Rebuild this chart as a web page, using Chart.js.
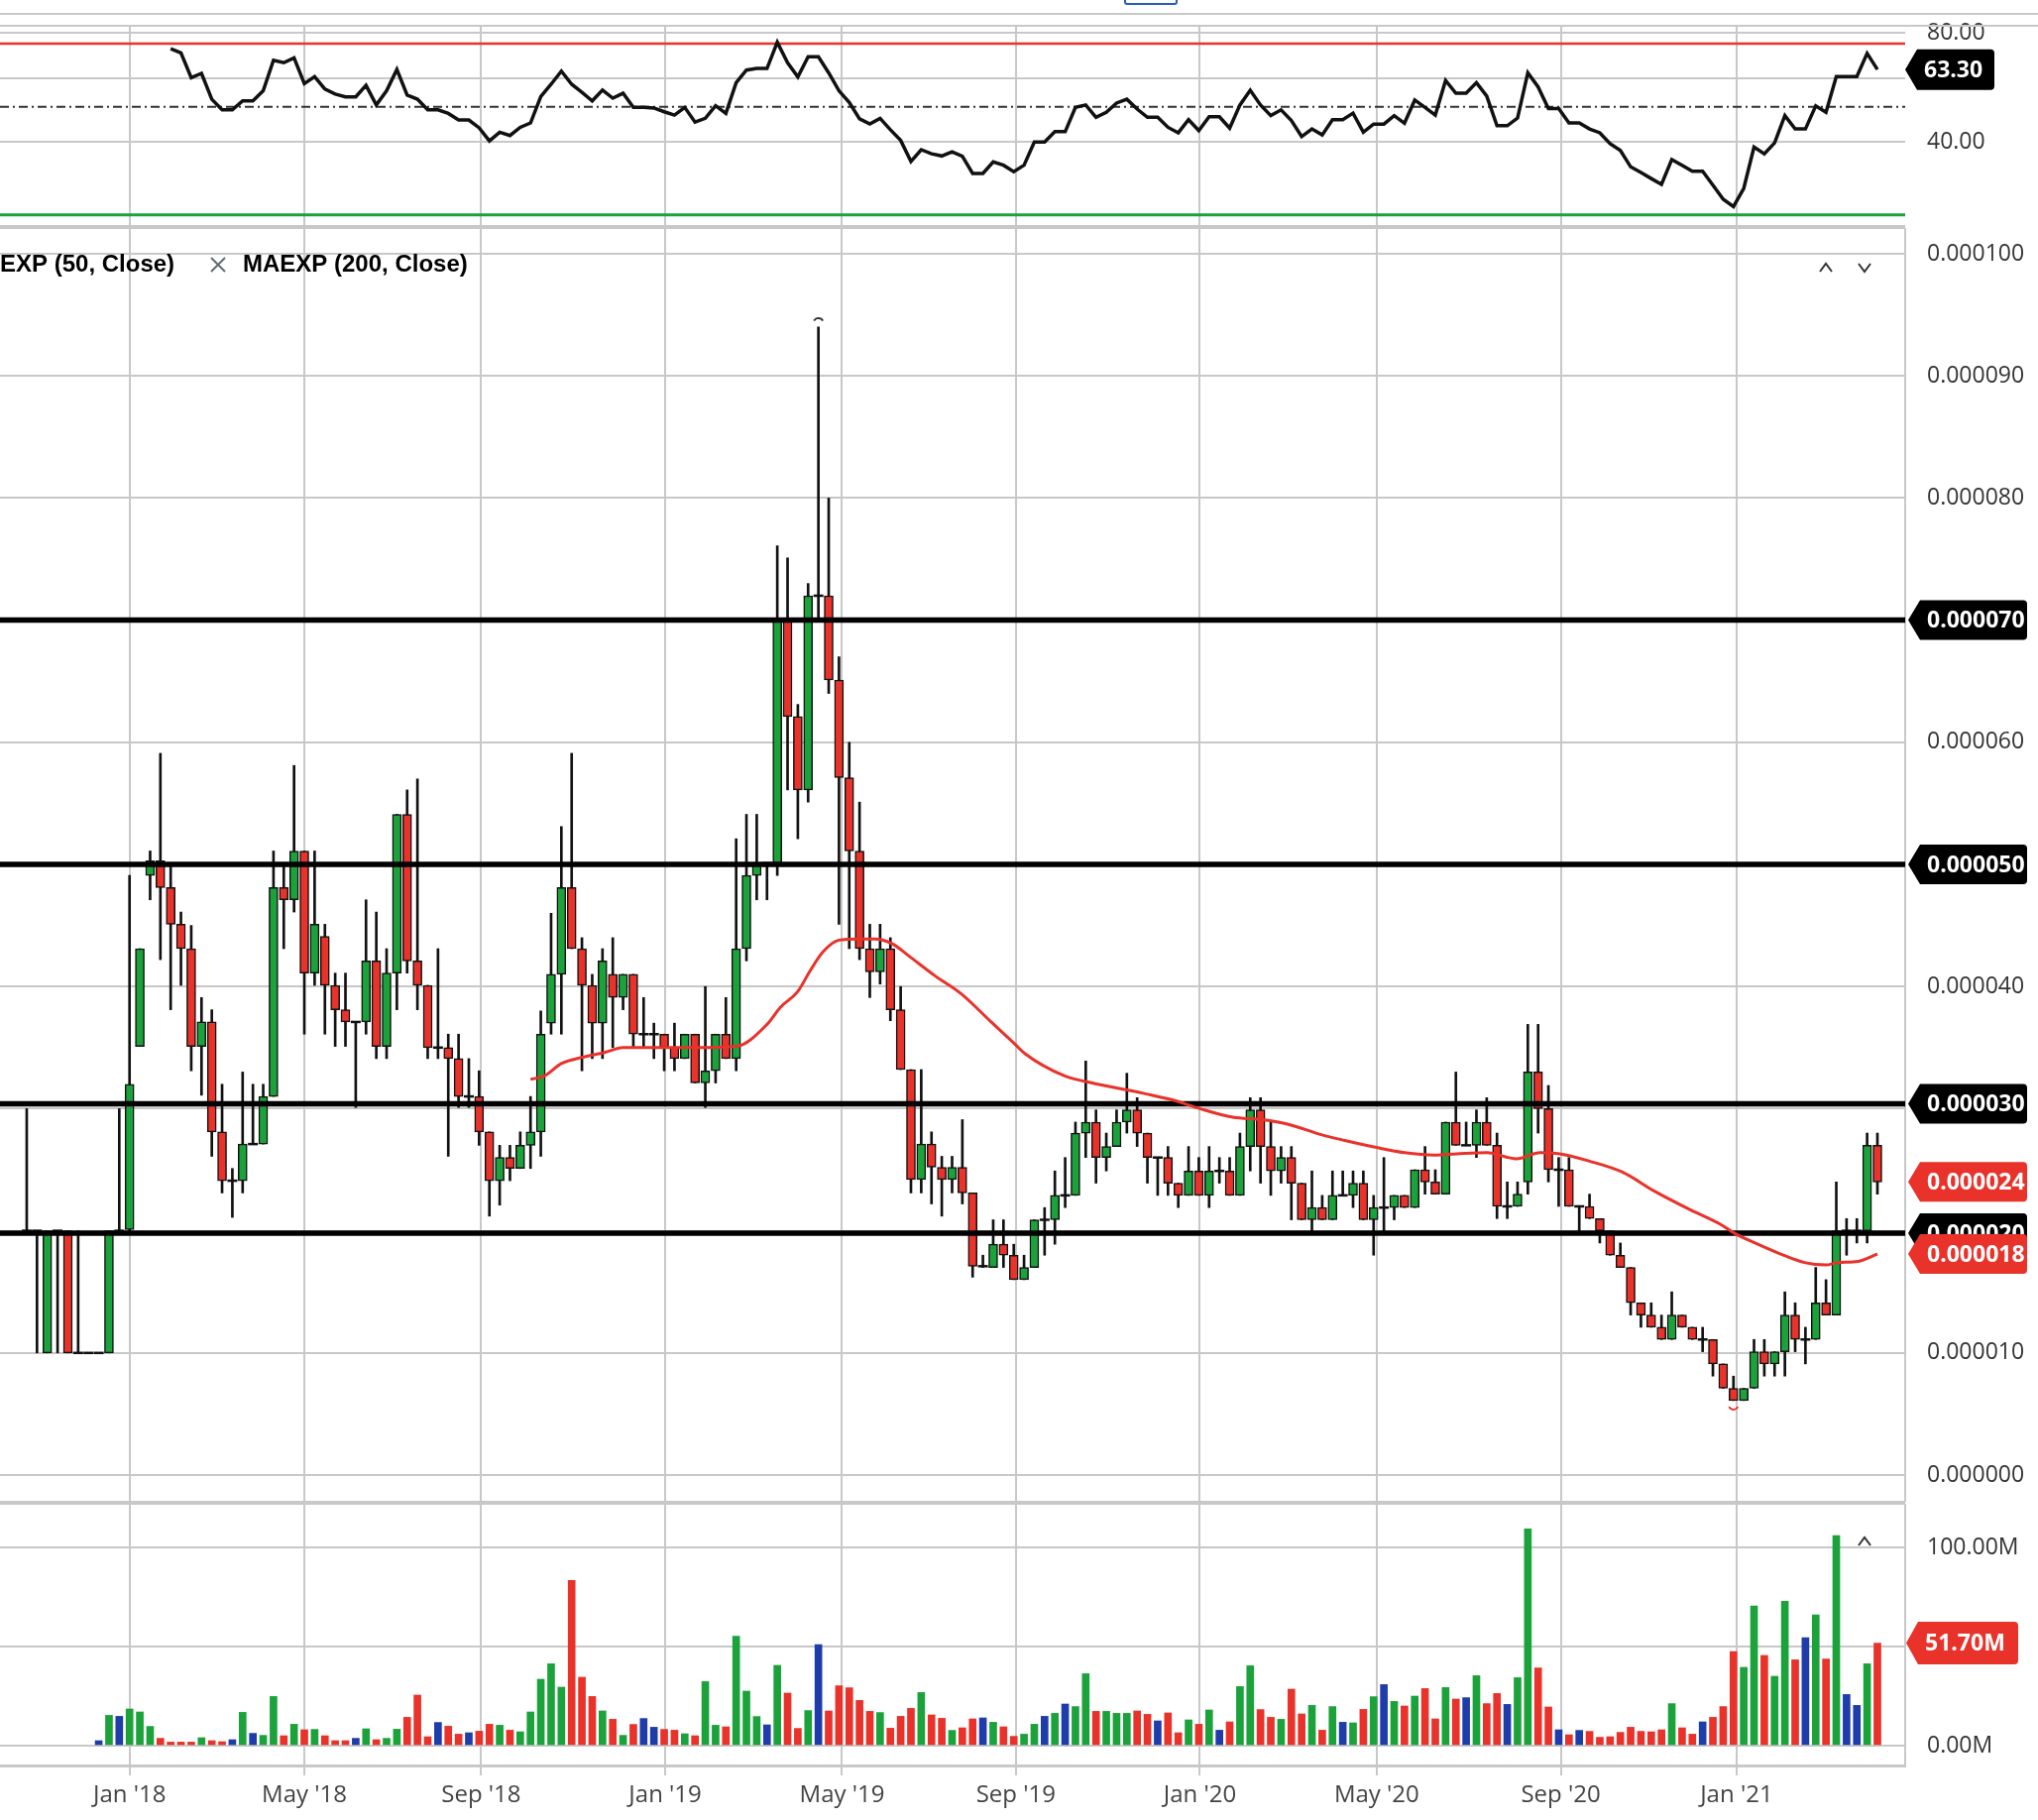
<!DOCTYPE html>
<html>
<head>
<meta charset="utf-8">
<script src="https://cdn.jsdelivr.net/npm/chart.js@4.4.1/dist/chart.umd.min.js"></script>
<style>
  html, body { margin: 0; padding: 0; background: #fff; }
  #wrap { position: relative; width: 2056px; height: 1836px; overflow: hidden; }
  canvas { position: absolute; left: 0; }
  .rule { position: absolute; left: 0; background: #c8c8c8; }
</style>
</head>
<body>
<div id="wrap">
  <canvas id="rsi-chart" width="2056" height="309" style="top:-30px"></canvas>
  <canvas id="price-chart" width="2056" height="1383" style="top:181px"></canvas>
  <canvas id="volume-chart" width="2056" height="368" style="top:1468px"></canvas>
  <div class="rule" style="top:13px;width:2056px;height:2px"></div>
  <div class="rule" style="top:25px;width:2056px;height:2px"></div>
  <div class="rule" style="top:227px;width:1922px;height:4px"></div>
  <div class="rule" style="top:1514px;width:1922px;height:4px"></div>
  <div style="position:absolute;left:1134px;top:-8px;width:50px;height:9px;border:2px solid #2a5bc0;border-radius:3px"></div>
</div>
<script>
// weekly candles, week index 0 = first week of Jan 2018; prices in units of 1e-6
const FIRST_WEEK = -10;
const openP = [
  20, 20, 10, 20, 20, 10, 10, 10, 10, 20,
  20.1, 35.1, 49.1, 50.3, 48.1, 45.1, 43.1, 35.1, 37.1, 28.1,
  24.1, 24.1, 27.1, 27.1, 31.0, 48.1, 47.1, 51.1, 41.1, 44.1,
  40.1, 38.1, 37.1, 37.1, 42.1, 35.1, 41.1, 54.1, 42.1, 40.1,
  35.0, 35.0, 34.1, 31.0, 31.0, 28.1, 24.1, 26.0, 25.1, 27.0,
  28.1, 37.0, 41.0, 48.1, 43.1, 40.1, 37.0, 41.0, 39.1, 41.0,
  36.1, 36.1, 36.1, 35.0, 34.1, 36.1, 32.1, 33.1, 36.1, 34.1,
  43.1, 49.1, 50.1, 50.1, 70.1, 62.1, 56.1, 72.0, 72.0, 65.1,
  57.1, 51.1, 43.1, 41.2, 43.1, 38.1, 33.2, 24.2, 27.1, 25.2,
  24.2, 25.2, 23.1, 17.1, 17.0, 18.9, 18.0, 16.0, 17.0, 20.9,
  20.9, 22.9, 22.9, 28.0, 28.9, 26.0, 26.9, 28.9, 29.9, 28.0,
  26.0, 26.0, 23.9, 22.9, 24.9, 22.9, 24.9, 24.9, 22.9, 26.9,
  29.9, 26.9, 24.9, 26.0, 23.9, 20.9, 21.9, 20.9, 22.9, 22.9,
  23.9, 20.9, 21.9, 21.9, 22.9, 21.9, 25.0, 24.0, 23.0, 28.9,
  27.0, 27.0, 28.9, 27.0, 22.0, 22.0, 24.0, 33.0, 30.0, 25.0,
  25.0, 22.0, 22.0, 21.0, 20.0, 18.0, 17.0, 14.1, 13.1, 12.1,
  11.1, 13.1, 12.1, 11.1, 11.1, 9.1, 7.1, 6.1, 7.1, 10.1,
  9.1, 10.1, 13.1, 11.1, 11.1, 14.1, 13.1, 20.0, 20.0, 20.0, 27.0
];
const highP = [
  30, 20, 20, 20, 20, 20, 10, 10, 20, 30,
  49.1, 43.1, 51.1, 59.1, 49.8, 46.1, 45.0, 39.1, 38.1, 32.0,
  25.1, 33.0, 32.0, 32.0, 51.1, 49.8, 58.1, 51.1, 51.1, 45.1,
  41.1, 41.1, 37.1, 47.1, 46.1, 43.1, 54.1, 56.1, 57.0, 40.1,
  43.1, 36.1, 36.1, 34.1, 33.1, 28.1, 27.0, 27.0, 28.1, 31.0,
  38.0, 46.0, 53.1, 59.1, 44.0, 41.0, 43.1, 44.0, 41.0, 41.0,
  39.1, 37.0, 36.1, 37.0, 36.1, 36.1, 40.0, 36.1, 39.1, 52.1,
  54.1, 54.1, 50.1, 76.1, 75.1, 63.1, 73.0, 94.0, 80.0, 67.0,
  60.0, 55.1, 45.1, 45.1, 44.0, 40.0, 33.2, 33.2, 28.1, 26.1,
  26.1, 29.1, 23.1, 18.0, 20.9, 20.9, 18.9, 18.0, 20.9, 21.9,
  24.9, 26.0, 28.9, 33.9, 29.9, 28.0, 29.9, 32.9, 30.9, 28.0,
  26.0, 26.9, 23.9, 26.9, 26.0, 26.9, 26.0, 26.0, 28.0, 30.9,
  30.9, 28.9, 26.9, 26.9, 23.9, 24.9, 22.9, 24.9, 24.9, 24.9,
  24.9, 22.9, 26.0, 22.9, 22.9, 25.0, 26.9, 25.0, 28.9, 33.0,
  28.9, 29.9, 30.9, 28.0, 24.0, 24.0, 36.9, 36.9, 31.9, 26.0,
  26.0, 22.0, 23.0, 21.0, 20.0, 19.0, 17.0, 14.1, 14.1, 13.1,
  15.0, 13.1, 12.1, 12.1, 11.1, 9.1, 8.1, 7.1, 11.1, 11.1,
  10.1, 15.0, 14.1, 12.1, 17.0, 16.0, 24.0, 21.0, 21.0, 28.0, 28.0
];
const lowP = [
  20, 10, 10, 10, 10, 10, 10, 10, 10, 20,
  20.0, 35.1, 47.1, 42.2, 38.1, 40.1, 33.1, 31.1, 26.1, 23.1,
  21.1, 23.1, 27.1, 27.1, 31.0, 43.1, 46.1, 36.1, 40.1, 36.1,
  35.1, 35.1, 30.1, 36.1, 34.1, 34.1, 38.1, 41.1, 38.1, 34.1,
  34.1, 26.1, 30.1, 30.1, 27.0, 21.2, 22.1, 24.1, 25.1, 25.1,
  26.1, 36.1, 36.1, 43.1, 33.1, 34.1, 34.1, 35.0, 38.1, 35.0,
  35.0, 34.1, 33.1, 33.1, 34.1, 32.1, 30.1, 32.1, 34.1, 33.1,
  42.1, 47.1, 47.1, 49.1, 56.1, 52.1, 55.1, 70.1, 64.0, 45.1,
  43.1, 42.2, 39.1, 40.2, 37.2, 33.2, 23.1, 23.1, 22.2, 21.2,
  23.1, 22.2, 16.2, 17.0, 17.0, 17.0, 16.0, 16.0, 17.0, 18.0,
  18.9, 21.9, 22.9, 26.0, 23.9, 24.9, 26.9, 28.0, 26.9, 23.9,
  22.9, 22.9, 21.9, 22.9, 22.9, 21.9, 23.9, 22.9, 22.9, 24.9,
  23.9, 22.9, 23.9, 20.9, 20.9, 19.7, 20.9, 20.9, 22.9, 21.9,
  20.9, 18.0, 19.7, 20.9, 21.9, 21.9, 23.0, 23.0, 23.0, 27.0,
  27.0, 26.0, 27.0, 21.0, 21.0, 22.0, 23.0, 28.0, 24.0, 22.0,
  22.0, 20.0, 21.0, 19.0, 18.0, 17.0, 13.1, 12.1, 12.1, 11.1,
  11.1, 12.1, 11.1, 10.1, 8.1, 7.1, 6.1, 6.1, 7.1, 8.1,
  8.1, 8.1, 10.1, 9.1, 11.1, 13.1, 13.1, 18.0, 19.0, 19.0, 23.0
];
const closeP = [
  20, 20, 20, 20, 10, 10, 10, 10, 20, 20,
  32.0, 43.1, 50.3, 48.1, 45.1, 43.1, 35.1, 37.1, 28.1, 24.1,
  24.1, 27.1, 27.1, 31.0, 48.1, 47.1, 51.1, 41.1, 45.1, 40.1,
  38.1, 37.1, 37.1, 42.1, 35.1, 41.1, 54.1, 42.1, 40.1, 35.0,
  35.0, 34.1, 31.0, 31.0, 28.1, 24.1, 26.0, 25.1, 27.0, 28.1,
  36.1, 41.0, 48.1, 43.1, 40.1, 37.0, 42.1, 39.1, 41.0, 36.1,
  36.1, 36.1, 35.0, 34.1, 36.1, 32.1, 33.1, 36.1, 34.1, 43.1,
  49.1, 50.1, 50.1, 70.1, 62.1, 56.1, 72.0, 72.0, 65.1, 57.1,
  51.1, 43.1, 41.2, 43.1, 38.1, 33.2, 24.2, 27.1, 25.2, 24.2,
  25.2, 23.1, 17.1, 17.1, 18.9, 18.0, 16.0, 17.0, 20.9, 20.9,
  22.9, 22.9, 28.0, 28.9, 26.0, 26.9, 28.9, 29.9, 28.0, 26.0,
  26.0, 23.9, 22.9, 24.9, 22.9, 24.9, 24.9, 22.9, 26.9, 29.9,
  26.9, 24.9, 26.0, 23.9, 20.9, 21.9, 20.9, 22.9, 22.9, 23.9,
  20.9, 21.9, 21.9, 22.9, 21.9, 25.0, 24.0, 23.0, 28.9, 27.0,
  27.0, 28.9, 27.0, 22.0, 22.0, 23.0, 33.0, 30.0, 25.0, 25.0,
  22.0, 22.0, 21.0, 20.0, 18.0, 17.0, 14.1, 13.1, 12.1, 11.1,
  13.1, 12.1, 11.1, 11.1, 9.1, 7.1, 6.1, 7.1, 10.1, 9.1,
  10.1, 13.1, 11.1, 11.1, 14.1, 13.1, 20.0, 20.0, 20.0, 27.0, 24.0
];

// volume in millions, from week -3
const VOL_FIRST_WEEK = -3;
const volumeM = [
  2.5, 15.3, 14.8, 18.5, 17, 9.7, 3.7, 1.8, 1.8, 1.8,
  4, 2.5, 2, 3, 16.8, 6.2, 5.2, 24.8, 5, 10.8,
  8, 8.2, 5, 2.5, 2.5, 3.7, 8.5, 3, 3.7, 8.3,
  14.3, 25.5, 4.5, 11.7, 9.8, 5.8, 6.5, 7.3, 10.8, 10.3,
  7.8, 7, 17, 33.5, 41.3, 29.5, 83.3, 34.5, 24.8, 17.5,
  13.3, 5.2, 10.7, 13.7, 9.3, 8.2, 7.8, 6, 5, 32.3,
  10.3, 9.5, 55.2, 27.5, 14.7, 10.5, 40.5, 26.5, 8.7, 17.7,
  51, 17.5, 30.2, 29.2, 22.8, 17.3, 16.7, 8.8, 14.8, 18.8,
  26.8, 15.5, 13.8, 7.7, 9, 13.5, 14, 11.8,
  9.5, 4.7, 5.8, 10.8, 14.8, 16.3, 21, 19.7, 36.3, 17.3,
  17.3, 16.3, 16.3, 17.5, 15.8, 12.5, 16.5, 6.5, 13, 10.8,
  18, 7.8, 12, 29.8, 40.3, 18.2, 14.3, 13.3, 28.5, 16,
  20.3, 7.8, 19.7, 11.8, 11.5, 18.3, 24.7, 30.8, 22.3, 20,
  25, 28.8, 13.5, 29.3, 23.5, 24.2, 35.3, 21.2, 26.3, 20.8,
  34.3, 109.3, 39.2, 19.5, 8, 5.5, 7.7, 7.2, 4.2, 4.5,
  6.7, 9.3, 7.2, 7, 8, 21.2, 9, 5.8, 12, 14.3,
  19.7, 47.5, 39.5, 70.5, 45.5, 35, 72.8, 43.3, 54.5, 66,
  43.7, 106, 25.8, 20.3, 41.3, 51.7
];

// oscillator (top panel), from week 4
const RSI_FIRST_WEEK = 4;
const rsiValues = [
  74.1, 72.6, 63.5, 65.1, 55.6, 51.7, 51.7, 55.0, 55.0, 58.7,
  69.9, 69.0, 70.8, 61.3, 63.9, 59.3, 57.5, 56.5, 56.5, 60.7,
  53.5, 58.7, 66.5, 57.1, 55.6, 51.7, 51.7, 50.4, 48.0, 48.0,
  45.1, 40.3, 43.5, 42.3, 45.3, 46.9, 56.6, 61.1, 65.9, 61.1,
  58.1, 55.0, 59.0, 56.0, 57.8, 52.6, 52.6, 52.4, 51.0, 49.8,
  52.6, 47.2, 48.6, 53.2, 50.4, 61.7, 66.3, 66.9, 66.9, 76.5,
  69.0, 63.8, 71.2, 71.2, 65.3, 58.7, 54.4, 48.4, 46.5, 48.6,
  44.4, 40.5, 32.8, 37.1, 35.6, 34.8, 36.3, 34.7, 28.4, 28.4,
  32.6, 31.4, 29.0, 31.4, 39.9,
  39.9, 43.7, 43.7, 52.6, 53.5, 49.0, 50.8, 54.2, 55.6, 52.0,
  49.0, 49.0, 45.3, 43.3, 48.1, 44.1, 49.2, 49.2, 45.0, 53.5,
  58.9, 53.5, 49.6, 51.7, 47.8, 41.9, 44.7, 42.5, 48.1, 48.1,
  50.5, 43.5, 46.5, 46.5, 49.6, 46.8, 55.3, 52.6, 49.8, 62.5,
  57.8, 57.8, 61.7, 56.8, 45.9, 45.9, 48.7, 65.3, 60.1, 52.2,
  52.2, 46.9, 46.9, 44.7, 43.3, 39.3, 36.8, 30.8, 28.7, 26.5,
  24.4, 33.5, 31.4, 29.2, 29.2, 24.1, 18.9, 16.2, 22.9, 38.1,
  35.6, 39.6, 49.6, 44.7, 44.7, 53.2, 50.8, 63.9, 63.9, 63.9,
  72.4, 66.5
];
const rsiLastLabel = '63.30';
const rsiUpper = 76.0, rsiMid = 52.8, rsiLower = 13.2;
const rsiTicks = [40, 63.3, 80];

// moving average
const emaWeek = [39, 40.4, 42, 44, 46.2, 48, 51, 54.9, 59, 62, 63.3, 65, 66.2, 67.4, 69, 71, 72.5, 74.2, 75.8, 78.3,
  80.9, 83.8, 86.1, 87.1, 90.9, 93.1, 96.6, 98.9, 101.5, 104.1, 107.3, 110.2, 112.8, 116, 118.2, 121.4, 124, 126.9,
  129.1, 132, 134.9, 137.2, 139.1, 142, 145.2, 148.4, 151.6, 154.8, 156.1, 158.1, 160.3, 162.9, 165, 166.1, 168.1, 170];
const emaValue = [32.4, 32.7, 33.7, 34.2, 34.6, 35.0, 35.0, 35.0, 35.1, 36.9, 38.3, 39.6, 41.3, 42.8, 43.8, 43.9, 43.9, 43.5, 42.5, 40.9,
  39.4, 37.1, 35.3, 34.5, 32.7, 32.2, 31.6, 31.2, 30.7, 30.0, 29.3, 29.1, 28.7, 27.85, 27.4, 26.8, 26.4, 26.2,
  26.3, 26.4, 25.9, 26.4, 26.3, 25.7, 24.8, 23.2, 21.8, 20.5, 19.8, 19.0, 18.2, 17.4, 17.2, 17.4, 17.5, 18.1];

// horizontal levels drawn on the price panel
const levelValues = [70, 50, 30.4, 19.8];
const priceTicks = [0, 10, 20, 30, 40, 50, 60, 70, 80, 90, 100];
const volumeTicks = [0, 50, 100];

const tickWeeks = [0, 17.0, 34.2, 52.1, 69.3, 86.2, 104.1, 121.3, 139.2, 156.3];
const tickLabels = ["Jan '18", "May '18", "Sep '18", "Jan '19", "May '19", "Sep '19", "Jan '20", "May '20", "Sep '20", "Jan '21"];

const FONT = 'Open Sans';
const LEGEND_FONT = 'Liberation Sans';
const GREEN = '#1ba23b', RED = '#e8322a', BLUE = '#1e3caa', GRID = '#c8c8c8', INK = '#111';
const X_MIN = -12.6, X_MAX = 172.7, AXIS_W = 134;

Chart.defaults.font.family = FONT;
Chart.defaults.animation = false;

const weeks = openP.map((_, k) => FIRST_WEEK + k);

function priceLabel(v) { return (v / 1e6).toFixed(6); }

function xAxis(showLabels) {
  return {
    type: 'linear', min: X_MIN, max: X_MAX, offset: false,
    afterBuildTicks: s => { s.ticks = tickWeeks.map(v => ({ value: v })); },
    afterFit: s => { s.height = showLabels ? 55 : 0; },
    grid: { color: GRID, lineWidth: 2, offset: false, drawTicks: showLabels, tickLength: 10 },
    border: { display: showLabels, color: GRID, width: 3 },
    ticks: {
      display: showLabels, autoSkip: false, maxRotation: 0, padding: 6, color: '#444',
      font: { size: 24 }, callback: (v, i) => tickLabels[i]
    }
  };
}

function yAxis(min, max, ticks, fmt, border) {
  return {
    position: 'right', min, max,
    afterBuildTicks: s => { s.ticks = ticks.map(v => ({ value: v })); },
    afterFit: s => { s.width = AXIS_W; },
    grid: { color: GRID, lineWidth: 2, drawTicks: false },
    border: { display: border, color: GRID, width: 2 },
    ticks: { padding: 22, color: '#333', font: { size: 23 }, callback: fmt }
  };
}

function hLine(value, color, width, dash, order) {
  return {
    type: 'line', data: [{ x: X_MIN, y: value }, { x: X_MAX, y: value }],
    borderColor: color, borderWidth: width, borderDash: dash, pointRadius: 0, order
  };
}

function drawBadge(ctx, x, y, w, h, text, fill) {
  ctx.save();
  ctx.fillStyle = fill;
  ctx.beginPath();
  ctx.moveTo(x, y);
  ctx.lineTo(x + 12, y - h / 2);
  ctx.lineTo(x + w - 4, y - h / 2);
  ctx.quadraticCurveTo(x + w, y - h / 2, x + w, y - h / 2 + 4);
  ctx.lineTo(x + w, y + h / 2 - 4);
  ctx.quadraticCurveTo(x + w, y + h / 2, x + w - 4, y + h / 2);
  ctx.lineTo(x + 12, y + h / 2);
  ctx.closePath();
  ctx.fill();
  ctx.fillStyle = '#fff';
  ctx.font = `bold 23px "${FONT}"`;
  ctx.textBaseline = 'middle';
  ctx.fillText(text, x + 19, y + 1);
  ctx.restore();
}

function chevron(ctx, x, y, up) {
  ctx.save();
  ctx.strokeStyle = '#333';
  ctx.lineWidth = 2;
  ctx.beginPath();
  ctx.moveTo(x - 6, y + (up ? 4 : -4));
  ctx.lineTo(x, y + (up ? -4 : 4));
  ctx.lineTo(x + 6, y + (up ? 4 : -4));
  ctx.stroke();
  ctx.restore();
}

const baseLayout = { autoPadding: false };

// ---------- oscillator panel ----------
const rsiData = rsiValues.map((v, k) => ({ x: RSI_FIRST_WEEK + k, y: v }));

new Chart(document.getElementById('rsi-chart'), {
  type: 'line',
  data: {
    datasets: [
      { data: rsiData, borderColor: INK, borderWidth: 3.5, pointRadius: 0, tension: 0, order: 0 },
      hLine(rsiUpper, RED, 2.5, [], 2),
      hLine(rsiMid, '#333', 2, [9, 4, 2, 4], 2),
      hLine(rsiLower, GREEN, 3, [], 2)
    ]
  },
  options: {
    responsive: false,
    layout: { ...baseLayout, padding: { top: 56, bottom: 50, left: 0, right: 0 } },
    plugins: { legend: { display: false }, tooltip: { enabled: false } },
    scales: {
      x: xAxis(false),
      y: yAxis(8.73, 82.55, rsiTicks, v => (v === 63.3 ? '' : v.toFixed(2)), false)
    }
  },
  plugins: [{
    id: 'rsiBadge',
    afterDraw(chart) {
      const y = chart.scales.y.getPixelForValue(rsiValues[rsiValues.length - 1]);
      drawBadge(chart.ctx, chart.chartArea.right, y, 90, 41, rsiLastLabel, '#000');
    }
  }]
});

// ---------- price panel ----------
const wickData = weeks.map((w, k) => ({ x: w, y: [lowP[k], highP[k]] }));
const bodyData = [], dojiData = [];
weeks.forEach((w, k) => {
  if (openP[k] === closeP[k]) dojiData.push({ x: w, y: openP[k] });
  else bodyData.push({ x: w, y: [openP[k], closeP[k]], up: closeP[k] > openP[k] });
});
const emaData = emaWeek.map((w, k) => ({ x: w, y: emaValue[k] }));

new Chart(document.getElementById('price-chart'), {
  type: 'bar',
  data: {
    datasets: [
      { data: wickData, backgroundColor: INK, barThickness: 2, grouped: false, order: 6 },
      {
        data: bodyData, grouped: false, order: 5, barThickness: 9,
        backgroundColor: c => (c.raw && c.raw.up ? GREEN : RED),
        borderColor: INK, borderWidth: 1.5, borderSkipped: false
      },
      { type: 'scatter', data: dojiData, pointStyle: 'line', pointRadius: 5, borderColor: INK, borderWidth: 2.5, order: 4 },
      ...levelValues.map(v => hLine(v, '#000', 5.5, [], 3)),
      { type: 'line', data: emaData, borderColor: RED, borderWidth: 3, pointRadius: 0, cubicInterpolationMode: 'monotone', order: 1 }
    ]
  },
  options: {
    responsive: false,
    layout: { ...baseLayout, padding: { top: 50, bottom: 50, left: 0, right: 0 } },
    plugins: { legend: { display: false }, tooltip: { enabled: false } },
    scales: {
      x: xAxis(false),
      y: yAxis(-2.11, 102.03, priceTicks, v => priceLabel(v), true)
    }
  },
  plugins: [{
    id: 'priceDecor',
    afterDraw(chart) {
      const { ctx, chartArea } = chart;
      const xs = chart.scales.x, ys = chart.scales.y;
      const ly = chartArea.top + 36;
      // legend
      ctx.save();
      ctx.textBaseline = 'middle';
      ctx.fillStyle = '#000';
      ctx.font = `bold 24px "${LEGEND_FONT}"`;
      ctx.fillText('EXP (50, Close)', 0, ly);
      ctx.fillText('MAEXP (200, Close)', 245, ly);
      ctx.strokeStyle = '#5f6b75';
      ctx.lineWidth = 2;
      ctx.beginPath();
      ctx.moveTo(213, ly - 7); ctx.lineTo(227, ly + 7);
      ctx.moveTo(227, ly - 7); ctx.lineTo(213, ly + 7);
      ctx.stroke();
      ctx.restore();
      chevron(ctx, 1842, ly + 3, true);
      chevron(ctx, 1881, ly + 3, false);

      // high / low markers
      const hiIdx = highP.indexOf(Math.max(...highP));
      const loIdx = lowP.indexOf(Math.min(...lowP));
      ctx.save();
      ctx.lineWidth = 2;
      ctx.strokeStyle = '#333';
      ctx.beginPath();
      ctx.arc(xs.getPixelForValue(weeks[hiIdx]), ys.getPixelForValue(highP[hiIdx]) - 4, 5, Math.PI * 1.15, Math.PI * 1.85);
      ctx.stroke();
      ctx.strokeStyle = RED;
      ctx.beginPath();
      ctx.arc(xs.getPixelForValue(weeks[loIdx]), ys.getPixelForValue(lowP[loIdx]) + 4, 5, Math.PI * 0.15, Math.PI * 0.85);
      ctx.stroke();
      ctx.restore();

      // value badges
      levelValues.forEach(v => drawBadge(ctx, chartArea.right + 3, ys.getPixelForValue(v), 120, 40, priceLabel(v), '#000'));
      const lastClose = closeP[closeP.length - 1];
      const lastEma = emaValue[emaValue.length - 1];
      drawBadge(ctx, chartArea.right + 3, ys.getPixelForValue(lastClose), 120, 40, priceLabel(lastClose), RED);
      drawBadge(ctx, chartArea.right + 3, ys.getPixelForValue(lastEma), 120, 40, priceLabel(lastEma), RED);
    }
  }]
});

// ---------- volume panel ----------
const volData = volumeM.map((v, k) => {
  const idx = VOL_FIRST_WEEK + k - FIRST_WEEK;
  const col = closeP[idx] > openP[idx] ? GREEN : (closeP[idx] < openP[idx] ? RED : BLUE);
  return { x: VOL_FIRST_WEEK + k, y: v, col };
});

new Chart(document.getElementById('volume-chart'), {
  type: 'bar',
  data: {
    datasets: [{
      data: volData, barThickness: 7, grouped: false,
      backgroundColor: c => (c.raw ? c.raw.col : GREEN)
    }]
  },
  options: {
    responsive: false,
    layout: { ...baseLayout, padding: { top: 50, bottom: 0, left: 0, right: 0 } },
    plugins: { legend: { display: false }, tooltip: { enabled: false } },
    scales: {
      x: xAxis(true),
      y: yAxis(-10, 121.5, volumeTicks, v => v.toFixed(2) + 'M', true)
    }
  },
  plugins: [{
    id: 'volDecor',
    afterDraw(chart) {
      const last = volumeM[volumeM.length - 1];
      drawBadge(chart.ctx, chart.chartArea.right + 1, chart.scales.y.getPixelForValue(last), 113, 43, last.toFixed(2) + 'M', RED);
      chevron(chart.ctx, 1881, chart.scales.y.getPixelForValue(100) - 6, true);
    }
  }]
});
</script>
</body>
</html>
